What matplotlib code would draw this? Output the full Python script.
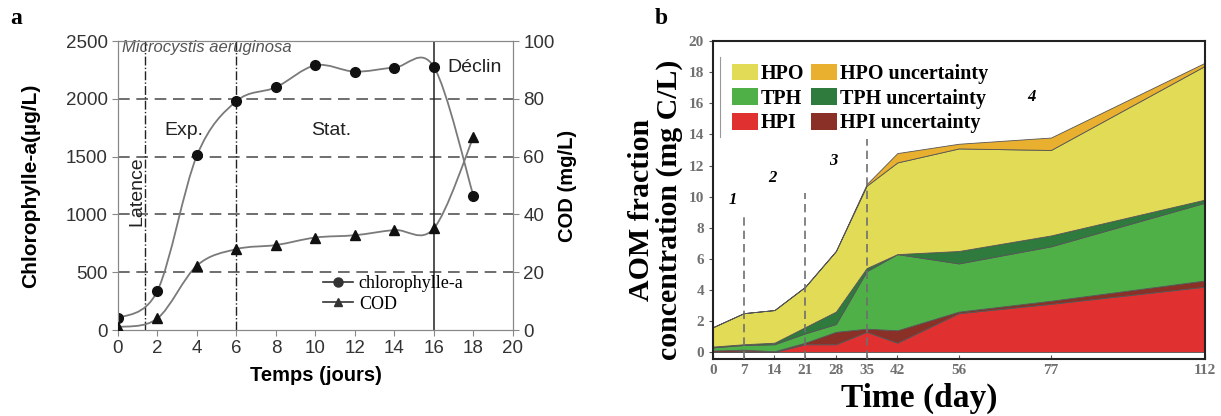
import numpy as np
import matplotlib
matplotlib.use("Agg")
import matplotlib.pyplot as plt
from matplotlib.path import Path
from matplotlib.patches import PathPatch, Patch
from matplotlib.lines import Line2D

# panel a : culture of Microcystis aeruginosa
days_a = [0, 2, 4, 6, 8, 10, 12, 14, 16, 18]
chl = [100, 340, 1510, 1980, 2100, 2290, 2235, 2270, 2275, 1160]     # ug/L
cod = [1, 4, 22.3, 28, 29.4, 32, 32.8, 34.6, 35.2, 66.8]             # mg/L
phase_x = [1.35, 6, 16]

# panel b : AOM fractions (stacked)
days_b = [0, 7, 14, 21, 28, 35, 42, 56, 77, 112]
hpi = [0.0, 0.05, 0.0, 0.5, 0.5, 1.3, 0.6, 2.5, 3.1, 4.2]
hpi_unc = [0.1, 0.1, 0.05, 0.1, 0.8, 0.2, 0.8, 0.1, 0.2, 0.4]
tph = [0.2, 0.3, 0.45, 0.6, 0.5, 3.7, 4.9, 3.1, 3.5, 5.0]
tph_unc = [0.05, 0.05, 0.1, 0.4, 0.8, 0.2, 0.0, 0.8, 0.7, 0.2]
hpo = [1.25, 2.0, 2.1, 2.6, 3.9, 5.3, 5.9, 6.6, 5.5, 8.6]
hpo_unc = [0.0, 0.0, 0.0, 0.0, 0.0, 0.1, 0.6, 0.3, 0.8, 0.2]
stage_x = [7, 21, 35]
stage_top = [8.8, 10.2, 13.7]

SANS = "Liberation Sans"
SERIF = "Liberation Serif"


def smooth_path(x, y):
    # excel-like smoothed line: cubic bezier through every point
    pts = np.column_stack([np.asarray(x, float), np.asarray(y, float)])
    n = len(pts)
    verts = [pts[0]]
    codes = [Path.MOVETO]
    for i in range(n - 1):
        p0 = pts[i - 1] if i > 0 else pts[i]
        p1 = pts[i]
        p2 = pts[i + 1]
        p3 = pts[i + 2] if i + 2 < n else pts[i + 1]
        verts += [p1 + (p2 - p0) / 6, p2 - (p3 - p1) / 6, p2]
        codes += [Path.CURVE4] * 3
    return Path(verts, codes)


fig = plt.figure(figsize=(12.21, 4.16), dpi=100)

# ---------------- panel a ----------------
ax = fig.add_axes([0.0966, 0.2067, 0.3235, 0.6947])
ax2 = ax.twinx()

ax.set_xlim(0, 20)
ax.set_ylim(0, 2500)
ax2.set_ylim(0, 100)

for yv in [500, 1000, 1500, 2000]:
    ax.axhline(yv, color="#555555", lw=1.2, ls=(0, (7, 4)), zorder=1)
ax.axvline(phase_x[0], color="#222222", lw=1.0, ls="-.", zorder=1)
ax.axvline(phase_x[1], color="#222222", lw=1.0, ls="-.", zorder=1)
ax.axvline(phase_x[2], color="#222222", lw=1.1, zorder=1)

ax.add_patch(PathPatch(smooth_path(days_a, chl), facecolor="none",
                       edgecolor="#7a7a7a", lw=1.3, zorder=2))
ax.plot(days_a, chl, ls="none", marker="o", ms=7, color="#111111", zorder=3)
ax2.add_patch(PathPatch(smooth_path(days_a, cod), facecolor="none",
                        edgecolor="#7a7a7a", lw=1.3, zorder=2))
ax2.plot(days_a, cod, ls="none", marker="^", ms=6.5, color="#111111", zorder=3)

ax.set_xticks(range(0, 21, 2))
ax.set_yticks(range(0, 2501, 500))
ax2.set_yticks(range(0, 101, 20))
for a in (ax, ax2):
    for s in a.spines.values():
        s.set_color("#888888")
    a.tick_params(colors="#888888", labelcolor="#333333", length=4,
                  labelsize=13.5, direction="out")
    for lab in a.get_xticklabels() + a.get_yticklabels():
        lab.set_family(SANS)

ax.set_xlabel("Temps (jours)", fontsize=14.5, fontweight="bold", family=SANS, labelpad=6)
ax.set_ylabel("Chlorophylle-a(\u00b5g/L)", fontsize=15, fontweight="bold", family=SANS, labelpad=18)
ax2.set_ylabel("COD (mg/L)", fontsize=14.5, fontweight="bold", family=SANS, labelpad=2)

ax.text(0.2, 2440, "Microcystis aeruginosa", style="italic", color="#555555",
        fontsize=12, family=SANS, va="center")
ax.text(3.35, 1730, "Exp.", fontsize=14, family=SANS, ha="center", va="center", color="#222222")
ax.text(10.8, 1730, "Stat.", fontsize=14, family=SANS, ha="center", va="center", color="#222222")
ax.text(16.7, 2275, "D\u00e9clin", fontsize=14, family=SANS, ha="left", va="center", color="#222222")
ax.text(0.95, 1200, "Latence", fontsize=14, family=SANS, rotation=90,
        ha="center", va="center", color="#222222")

h_a = [Line2D([], [], color="#333333", lw=1.2, marker="o", ms=6.5),
       Line2D([], [], color="#333333", lw=1.2, marker="^", ms=6)]
ax.legend(h_a, ["chlorophylle-a", "COD"], loc="upper left",
          bbox_to_anchor=(0.5, 0.215), frameon=False, handlelength=1.7,
          handletextpad=0.3, labelspacing=0.2, borderaxespad=0,
          prop={"family": SERIF, "size": 13})

fig.text(0.008, 0.955, "a", fontsize=17, fontweight="bold", family=SERIF, va="center")

# ---------------- panel b ----------------
bx = fig.add_axes([0.584, 0.137, 0.4025, 0.764])
cols = ["#e03030", "#8b3026", "#4fb048", "#2f7a3d", "#e2db55", "#e9b02f"]
bx.stackplot(days_b, hpi, hpi_unc, tph, tph_unc, hpo, hpo_unc, colors=cols,
             edgecolor="#555555", linewidth=0.6, zorder=2)
bx.set_xlim(0, 112)
bx.set_ylim(-0.45, 20)

for xv, top in zip(stage_x, stage_top):
    bx.plot([xv, xv], [-0.45, top], color="#6f6f6f", lw=1.2, ls=(0, (5, 3)), zorder=3)
for lab, xv, yv in zip(["1", "2", "3", "4"], [4.5, 13.5, 27.4, 72.5], [9.8, 11.2, 12.3, 16.4]):
    bx.text(xv, yv, lab, style="italic", fontweight="bold", fontsize=12,
            family=SERIF, ha="center", va="center")

bx.set_xticks(days_b)
bx.set_yticks(range(0, 21, 2))
for s in bx.spines.values():
    s.set_color("#222222")
    s.set_linewidth(1.5)
bx.tick_params(axis="both", colors="#555555", labelcolor="#707070", labelsize=11, length=3)
bx.tick_params(axis="x", direction="in")
for lab in bx.get_xticklabels() + bx.get_yticklabels():
    lab.set_family(SERIF)
    lab.set_fontweight("bold")

bx.set_xlabel("Time (day)", fontsize=24, fontweight="bold", family=SERIF, labelpad=4)
bx.xaxis.label.set_x(0.42)
bx.set_ylabel("AOM fraction\nconcentration (mg C/L)", fontsize=21.5,
              fontweight="bold", family=SERIF, labelpad=4, linespacing=1.05)
bx.yaxis.label.set_y(0.47)

names = ["HPO", "TPH", "HPI", "HPO uncertainty", "TPH uncertainty", "HPI uncertainty"]
hcols = [cols[4], cols[2], cols[0], cols[5], cols[3], cols[1]]
h_b = [Patch(facecolor=c, edgecolor="none") for c in hcols]
bx.legend(h_b, names, ncol=2, loc="upper left", bbox_to_anchor=(0.022, 0.955),
          frameon=False, handlelength=1.3, handleheight=0.9, handletextpad=0.15,
          columnspacing=0.3, labelspacing=0.22, borderaxespad=0,
          prop={"family": SERIF, "size": 14.5, "weight": "bold"})
bx.plot([0.015, 0.015], [0.7, 0.95], transform=bx.transAxes, color="#999999", lw=0.8)

fig.text(0.536, 0.955, "b", fontsize=17, fontweight="bold", family=SERIF, va="center")

fig.savefig("out.png", dpi=100)
